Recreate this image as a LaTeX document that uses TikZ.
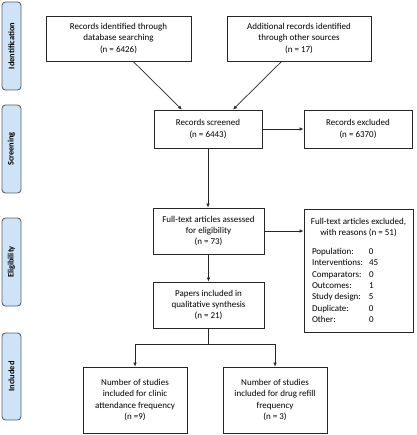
\documentclass[tikz,border=0pt]{standalone}
\usepackage{fontspec}
\setmainfont{Carlito}
\usetikzlibrary{arrows.meta,calc}
\definecolor{sidefill}{RGB}{206,228,246}
\definecolor{sideline}{RGB}{88,98,110}
\begin{document}
\begin{tikzpicture}[x=1pt,y=-1pt,
  box/.style={draw=black!85,line width=0.8pt,align=center,inner sep=2pt,
    font=\fontsize{9}{11.3}\selectfont},
  side/.style={draw=sideline,fill=sidefill,line width=0.9pt,rounded corners=3.5pt,
    rotate=90,minimum height=19pt,inner sep=0pt,
    font=\fontsize{8.4}{10}\selectfont\bfseries},
  arr/.style={-{Latex[length=4pt,width=3.6pt]},line width=0.7pt,black!85},
  ln/.style={line width=0.7pt,black!85}]
\useasboundingbox (0,0) rectangle (416,435);
% side labels
\node[side,minimum width=88pt] (sid) at (11.5,46) {Identification};
\node[side,minimum width=88pt] (ssc) at (11.5,149) {Screening};
\node[side,minimum width=88pt] (sel) at (11.5,262) {Eligibility};
\node[side,minimum width=87pt] (sin) at (11.5,376.5) {Included};
% boxes
\node[box,minimum width=145pt,minimum height=45pt] (db) at (118.5,38.5)
  {Records identified through\\database searching\\(n = 6426)};
\node[box,minimum width=144pt,minimum height=45pt] (other) at (299,38.5)
  {Additional records identified\\through other sources\\(n = 17)};
\node[box,minimum width=108pt,minimum height=38pt] (screened) at (208,129)
  {Records screened\\(n = 6443)};
\node[box,minimum width=108pt,minimum height=38pt] (excluded) at (358,129)
  {Records excluded\\(n = 6370)};
\node[box,minimum width=111pt,minimum height=46pt] (fulltext) at (208.5,231)
  {Full-text articles assessed\\for eligibility\\(n = 73)};
\node[box,minimum width=111pt,minimum height=46pt] (papers) at (208.5,305)
  {Papers included in\\qualitative synthesis\\(n = 21)};
\node[box,minimum width=109pt,minimum height=123pt] (ftexcl) at (358.5,270.5)
  {\begin{minipage}{103pt}\fontsize{9}{11.4}\selectfont\centering
   Full-text articles excluded,\\with reasons (n = 51)\par\vspace{7pt}
   \raggedright\hspace*{5pt}%
   \makebox[57pt][l]{Population:}0\\\hspace*{5pt}%
   \makebox[57pt][l]{Interventions:}45\\\hspace*{5pt}%
   \makebox[57pt][l]{Comparators:}0\\\hspace*{5pt}%
   \makebox[57pt][l]{Outcomes:}1\\\hspace*{5pt}%
   \makebox[57pt][l]{Study design:}5\\\hspace*{5pt}%
   \makebox[57pt][l]{Duplicate:}0\\\hspace*{5pt}%
   \makebox[57pt][l]{Other:}0
   \end{minipage}};
\node[box,minimum width=104pt,minimum height=66pt] (clinic) at (135,400)
  {Number of studies\\included for clinic\\attendance frequency\\(n =9)};
\node[box,minimum width=104pt,minimum height=66pt] (drug) at (275,400)
  {Number of studies\\included for drug refill\\frequency\\(n = 3)};
% connectors
\draw[arr] ($(db.south west)!0.6!(db.south east)$) -- ($(screened.north west)!0.26!(screened.north east)$);
\draw[arr] ($(other.south west)!0.38!(other.south east)$) -- ($(screened.north west)!0.73!(screened.north east)$);
\draw[arr] (screened.east) -- (excluded.west);
\draw[arr] (screened.south) -- (screened.south |- fulltext.north);
\draw[arr] (fulltext.east) -- (fulltext.east -| ftexcl.west);
\draw[arr] (fulltext.south) -- (papers.north);
\coordinate (split) at ($(papers.south)+(0,16)$);
\draw[ln] (papers.south) -- (split);
\draw[arr] (split) -| (clinic.north);
\draw[arr] (split) -| (drug.north);
\end{tikzpicture}
\end{document}
